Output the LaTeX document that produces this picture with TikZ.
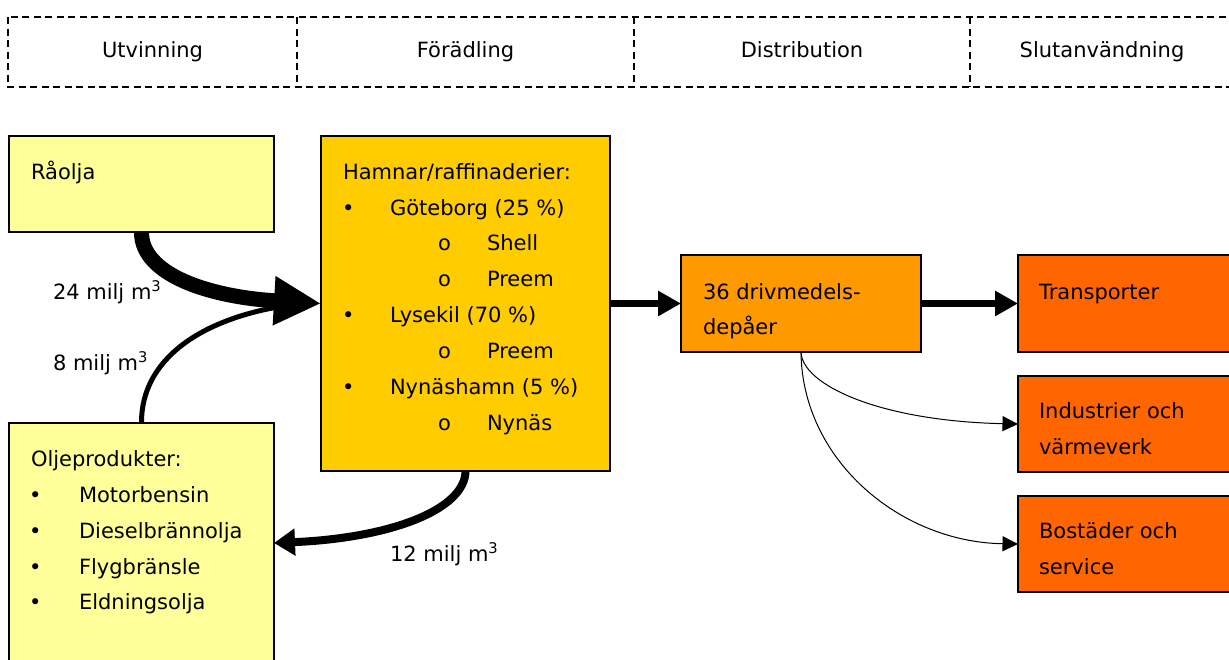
\documentclass[tikz,border=0pt]{standalone}
\usepackage{fontspec}
\setmainfont{DejaVu Sans}
\usetikzlibrary{arrows.meta}
\definecolor{lightyel}{HTML}{FFFF99}
\definecolor{goldbox}{HTML}{FFCC00}
\definecolor{orangeA}{HTML}{FF9900}
\definecolor{orangeB}{HTML}{FF6600}
\begin{document}
\begin{tikzpicture}[x=1pt,y=-1pt,
  font=\fontsize{21}{25}\selectfont,
  box/.style={draw, line width=1.5pt, anchor=north west, inner sep=0pt, outer sep=0pt},
  txt/.style={anchor=base west, inner sep=0pt, outer sep=0pt},
  hdr/.style={anchor=north west, inner sep=0pt, outer sep=0pt, minimum height=70pt, text height=15pt, text depth=4pt},
  frame/.style={line width=2pt, dash pattern=on 7pt off 4.5pt},
  thickflow/.style={line width=7pt, -{Triangle[length=23pt,width=24pt]}},
  thinflow/.style={line width=1pt, -{Triangle[length=15.5pt,width=15pt]}}]
\useasboundingbox (0,0) rectangle (1229,659);
\clip (0,0) rectangle (1229,659);
% header
\node[hdr, minimum width=289pt] (h1) at (8,17) {Utvinning};
\node[hdr, minimum width=337pt] (h2) at (297,17) {Förädling};
\node[hdr, minimum width=336pt] (h3) at (634,17) {Distribution};
\node[hdr, minimum width=264pt] (h4) at (970,17) {Slutanvändning};
\draw[frame] (h1.north west) rectangle ([xshift=20pt]h4.south east);
\draw[frame] (h1.north east) -- (h1.south east);
\draw[frame] (h2.north east) -- (h2.south east);
\draw[frame] (h3.north east) -- (h3.south east);
% boxes
\node[box, fill=lightyel, minimum width=265pt, minimum height=96pt] (raolja) at (9,136) {};
\node[box, fill=lightyel, minimum width=265pt, minimum height=260pt] (olje) at (9,423) {};
\node[box, fill=goldbox, minimum width=289pt, minimum height=335pt] (hamn) at (321,136) {};
\node[box, fill=orangeA, minimum width=240pt, minimum height=97pt] (depa) at (681,255) {};
\node[box, fill=orangeB, minimum width=240pt, minimum height=97pt] (transp) at (1018,255) {};
\node[box, fill=orangeB, minimum width=240pt, minimum height=96pt] (indus) at (1018,376) {};
\node[box, fill=orangeB, minimum width=240pt, minimum height=96pt] (bost) at (1018,496) {};
% texts
\node[txt] (traolja) at (31,179) {Råolja};
\node[txt] (tolje) at (31,466) {Oljeprodukter:};
\node[txt] (ob1) at (29,502) {•};
\node[txt] (oi1) at (79,502) {Motorbensin};
\node[txt] (ob2) at (29,538) {•};
\node[txt] (oi2) at (79,538) {Dieselbrännolja};
\node[txt] (ob3) at (29,574) {•};
\node[txt] (oi3) at (79,574) {Flygbränsle};
\node[txt] (ob4) at (29,609) {•};
\node[txt] (oi4) at (79,609) {Eldningsolja};
\node[txt] (thamn) at (343,179) {Hamnar/raffinaderier:};
\node[txt] (hb1) at (342,215) {•};
\node[txt] (hi1) at (390,215) {Göteborg (25 \%)};
\node[txt] (ho1) at (438,250) {o};
\node[txt] (hs1) at (487,250) {Shell};
\node[txt] (ho2) at (438,286) {o};
\node[txt] (hs2) at (487,286) {Preem};
\node[txt] (hb2) at (342,322) {•};
\node[txt] (hi2) at (390,322) {Lysekil (70 \%)};
\node[txt] (ho3) at (438,358) {o};
\node[txt] (hs3) at (487,358) {Preem};
\node[txt] (hb3) at (342,394) {•};
\node[txt] (hi3) at (390,394) {Nynäshamn (5 \%)};
\node[txt] (ho4) at (438,430) {o};
\node[txt] (hs4) at (487,430) {Nynäs};
\node[txt] (tdepa1) at (703,299) {36 drivmedels-};
\node[txt] (tdepa2) at (703,334) {depåer};
\node[txt] (ttransp) at (1039,299) {Transporter};
\node[txt] (tindus1) at (1039,418) {Industrier och};
\node[txt] (tindus2) at (1039,454) {värmeverk};
\node[txt] (tbost1) at (1039,538) {Bostäder och};
\node[txt] (tbost2) at (1039,574) {service};
% flow labels
\node[txt] (l24) at (53,299) {24 milj m\textsuperscript{3}};
\node[txt] (l8) at (53,370) {8 milj m\textsuperscript{3}};
\node[txt] (l12) at (390,561) {12 milj m\textsuperscript{3}};
% connectors
\draw[line width=5pt] (olje.north) .. controls (141,360) and (200,318) .. (290,305);
\draw[line width=15pt, -{Triangle[length=47pt,width=46pt]}] (raolja.south) .. controls (141,275) and (210,297) .. (hamn.west);
\draw[line width=8pt, -{Triangle[length=21pt,width=26pt]}] (hamn.south) .. controls (465,510) and (390,538) .. ([yshift=10pt]olje.east);
\draw[thickflow] (hamn.east) -- (depa.west);
\draw[thickflow] (depa.east) -- (transp.west);
\draw[thinflow] (depa.south) .. controls (802,385) and (880,421) .. (indus.west);
\draw[thinflow] (depa.south) .. controls (802,460) and (900,542) .. (bost.west);
\end{tikzpicture}
\end{document}
